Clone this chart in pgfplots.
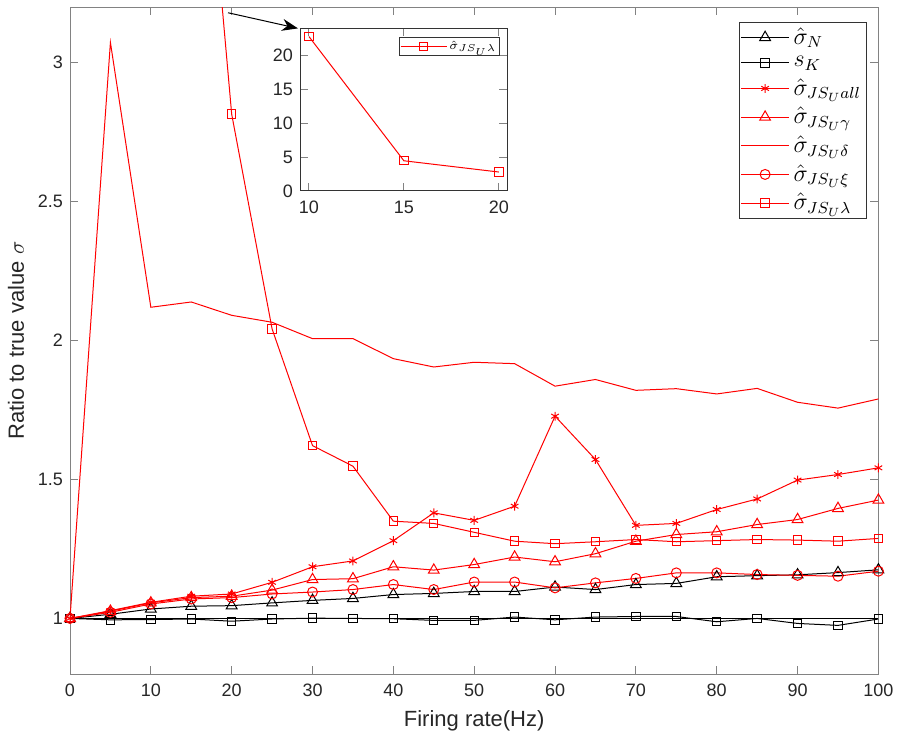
\documentclass[border=0pt]{standalone}
\usepackage{fontspec}
\setmainfont{Liberation Sans}
\usepackage{pgfplots}
\pgfplotsset{compat=1.18}
\usetikzlibrary{arrows.meta}
\definecolor{axgray}{RGB}{130,130,130}
\definecolor{txtgray}{RGB}{38,38,38}

\pgfplotsset{
  matlab/.style={
    scale only axis,
    axis line style={axgray,line width=0.5pt},
    tick style={axgray,line width=0.5pt},
    tick align=inside,
    major tick length=4pt,
    tick label style={font=\fontsize{9}{10}\selectfont, text=txtgray},
    xticklabel style={yshift=-1.5pt},
    /pgf/number format/assume math mode=true,
    label style={font=\fontsize{11}{13}\selectfont, text=txtgray},
    every axis plot/.append style={line width=0.5pt},
    legend image code/.code={\draw[mark repeat=2,mark phase=2,##1] plot coordinates {(0pt,0pt) (12pt,0pt) (24pt,0pt)};},
    legend cell align=left,
  },
}

\begin{document}
\begin{tikzpicture}
\path[use as bounding box] (-35pt,-29.5pt) rectangle (413.5pt,337pt);

\begin{axis}[matlab, name=main, at={(0,0)}, anchor=south west,
  width=404.2pt, height=333.4pt,
  xmin=0, xmax=100, ymin=0.8, ymax=3.2,
  xtick={0,10,...,100}, ytick={1,1.5,2,2.5,3},
  xlabel={Firing rate(Hz)}, ylabel={Ratio to true value $\sigma$},
  legend style={at={(1,1)}, anchor=north east, xshift=-6pt, yshift=-7.5pt,
    draw=black!80, fill=white, font=\fontsize{12}{14}\selectfont,
    inner xsep=0.5pt, inner ysep=0.5pt, row sep=0.5pt,
    nodes={inner xsep=2pt}},
]
% reference line at the true value
\addplot[black, line width=0.8pt, forget plot] coordinates {(0,1) (100,1)};

\addplot[black, mark=triangle, mark size=3.1pt] coordinates {
(0,1) (5,1.015) (10,1.034) (15,1.044) (20,1.046) (25,1.056) (30,1.065)
(35,1.072) (40,1.086) (45,1.09) (50,1.097) (55,1.097) (60,1.113) (65,1.104)
(70,1.122) (75,1.126) (80,1.15) (85,1.154) (90,1.157) (95,1.165) (100,1.175)};
\addlegendentry{$\hat{\sigma}_N$}

\addplot[black, mark=square, mark size=2.1pt] coordinates {
(0,1) (5,0.995) (10,0.996) (15,0.998) (20,0.99) (25,0.998) (30,1.001)
(35,1.0) (40,0.999) (45,0.993) (50,0.993) (55,1.005) (60,0.995) (65,1.005)
(70,1.007) (75,1.007) (80,0.988) (85,1.0) (90,0.982) (95,0.975) (100,0.998)};
\addlegendentry{$s_K$}

\addplot[red, mark=asterisk, mark size=2.2pt] coordinates {
(0,1) (5,1.028) (10,1.058) (15,1.08) (20,1.088) (25,1.13) (30,1.186)
(35,1.207) (40,1.28) (45,1.38) (50,1.353) (55,1.404) (60,1.728) (65,1.572)
(70,1.335) (75,1.342) (80,1.392) (85,1.43) (90,1.498) (95,1.518) (100,1.542)};
\addlegendentry{$\hat{\sigma}_{JS_U all}$}

\addplot[red, mark=triangle, mark size=3.1pt] coordinates {
(0,1) (5,1.026) (10,1.056) (15,1.075) (20,1.08) (25,1.102) (30,1.14)
(35,1.143) (40,1.186) (45,1.174) (50,1.194) (55,1.221) (60,1.204) (65,1.233)
(70,1.278) (75,1.302) (80,1.312) (85,1.338) (90,1.356) (95,1.396) (100,1.426)};
\addlegendentry{$\hat{\sigma}_{JS_U \gamma}$}

\addplot[red, no markers] coordinates {
(0,1) (5,3.073) (10,2.12) (15,2.139) (20,2.091) (25,2.066) (30,2.007)
(35,2.007) (40,1.935) (45,1.905) (50,1.922) (55,1.917) (60,1.836) (65,1.86)
(70,1.821) (75,1.827) (80,1.808) (85,1.828) (90,1.778) (95,1.757) (100,1.79)};
\addlegendentry{$\hat{\sigma}_{JS_U \delta}$}

\addplot[red, mark=o, mark size=2.5pt] coordinates {
(0,1) (5,1.022) (10,1.052) (15,1.07) (20,1.075) (25,1.088) (30,1.095)
(35,1.104) (40,1.122) (45,1.104) (50,1.131) (55,1.131) (60,1.11) (65,1.128)
(70,1.144) (75,1.164) (80,1.164) (85,1.158) (90,1.155) (95,1.152) (100,1.17)};
\addlegendentry{$\hat{\sigma}_{JS_U \xi}$}

\addplot[red, mark=square, mark size=2.1pt] coordinates {
(10,22.8) (15,4.46) (20,2.815) (25,2.042) (30,1.622) (35,1.548) (40,1.35)
(45,1.342) (50,1.31) (55,1.278) (60,1.269) (65,1.276) (70,1.284) (75,1.276)
(80,1.28) (85,1.284) (90,1.282) (95,1.278) (100,1.288)};
\addlegendentry{$\hat{\sigma}_{JS_U \lambda}$}

\coordinate (arrowstart) at (axis cs:19.55,3.18);
\end{axis}

% zoomed inset for the first points of lambda
\begin{axis}[matlab, name=inset, at={(115pt,241.5pt)}, anchor=south west,
  width=103.7pt, height=81.3pt,
  xmin=9.53, xmax=20.45, ymin=0, ymax=24,
  xtick={10,15,20}, ytick={0,5,...,20},
  axis line style={black!80},
  axis background/.style={fill=white},
  legend image code/.code={\draw[mark repeat=2,mark phase=2,#1] plot coordinates {(0pt,0pt) (11.5pt,0pt) (23pt,0pt)};},
  legend style={at={(1,1)}, anchor=north east, xshift=-3.7pt, yshift=-4.2pt,
    draw=black!80, font=\fontsize{6}{7}\selectfont,
    inner xsep=0.5pt, inner ysep=0pt, nodes={inner xsep=1.2pt, inner ysep=1.8pt}},
]
\addplot[red, mark=square, mark size=2.1pt] coordinates {(10,22.8) (15,4.46) (20,2.8)};
\addlegendentry{$\hat{\sigma}_{JS_U \lambda}$}
\end{axis}

\draw[black, line width=0.5pt, -{Stealth[length=8pt,width=6pt]}] (arrowstart) -- ([xshift=-1pt]inset.north west);
\end{tikzpicture}
\end{document}
